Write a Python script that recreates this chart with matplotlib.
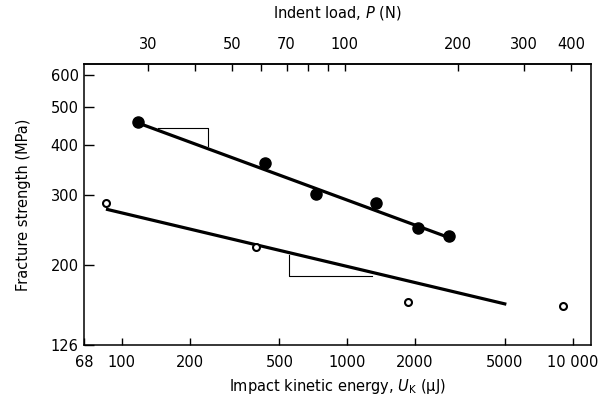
import matplotlib
matplotlib.use("Agg")
import matplotlib.pyplot as plt
import numpy as np
from matplotlib.ticker import FixedLocator, FixedFormatter, NullLocator

# filled points (upper series)
u_filled = [118, 431, 725, 1337, 2069, 2840]
s_filled = [457, 362, 301, 286, 248, 236]
# open points (lower series)
u_open = [85, 393, 1866, 9058]
s_open = [287, 222.6, 161.8, 158]
# fitted lines
u_fit_hi = [123.5, 2820]
s_fit_hi = [451, 234.6]
u_fit_lo = [85, 5080]
s_fit_lo = [276.5, 159.4]
# slope triangles
u_tri_hi = [144, 240, 240]
s_tri_hi = [442, 442, 397.7]
u_tri_lo = [552, 552, 1294]
s_tri_lo = [212, 187.8, 187.8]

x_ticks = [68, 100, 200, 500, 1000, 2000, 5000, 10000]
x_labels = ["68", "100", "200", "500", "1000", "2000", "5000", "10 000"]
y_ticks = [126, 200, 300, 400, 500, 600]
p_ticks = [30, 40, 50, 60, 70, 80, 90, 100, 200, 300, 400]
p_labels = ["30", "", "50", "", "70", "", "", "100", "200", "300", "400"]

# indent load P relates to kinetic energy as U ~ P^(5/3)
k = 1.609


def u_to_p(u):
    return k * np.power(np.clip(u, 1e-9, None), 0.6)


def p_to_u(p):
    return np.power(np.clip(p, 1e-9, None) / k, 1 / 0.6)


plt.rcParams['font.family'] = ['DejaVu Sans']
plt.rcParams['font.size'] = 10.5

fig = plt.figure(figsize=(6.14, 4.01), dpi=100)
ax = fig.add_axes([0.137, 0.140, 0.826, 0.700])

ax.plot(u_fit_hi, s_fit_hi, color='black', lw=2.3, solid_capstyle='butt')
ax.plot(u_fit_lo, s_fit_lo, color='black', lw=2.3, solid_capstyle='butt')
ax.plot(u_tri_hi, s_tri_hi, color='black', lw=0.8)
ax.plot(u_tri_lo, s_tri_lo, color='black', lw=0.8)
ax.plot(u_filled, s_filled, 'o', color='black', ms=8, zorder=3)
ax.plot(u_open, s_open, 'o', mfc='white', mec='black', mew=1.5, ms=5, zorder=3)

ax.set_xscale('log')
ax.set_yscale('log')
ax.set_xlim(68, 12100)
ax.set_ylim(126, 640)

ax.xaxis.set_major_locator(FixedLocator(x_ticks))
ax.xaxis.set_major_formatter(FixedFormatter(x_labels))
ax.xaxis.set_minor_locator(NullLocator())
ax.yaxis.set_major_locator(FixedLocator(y_ticks))
ax.yaxis.set_major_formatter(FixedFormatter([str(v) for v in y_ticks]))
ax.yaxis.set_minor_locator(NullLocator())

ax.tick_params(axis='x', direction='in', length=5, width=1, pad=7)
ax.tick_params(axis='y', direction='in', length=7, width=1, pad=4)
for sp in ax.spines.values():
    sp.set_linewidth(1.1)

ax.set_xlabel(r"Impact kinetic energy, $U_{\mathrm{K}}$ ($\mathrm{\mu}$J)", labelpad=5)
ax.set_ylabel("Fracture strength (MPa)", labelpad=14)

top = ax.secondary_xaxis('top', functions=(u_to_p, p_to_u))
top.xaxis.set_major_locator(FixedLocator(p_ticks))
top.xaxis.set_major_formatter(FixedFormatter(p_labels))
top.xaxis.set_minor_locator(NullLocator())
top.tick_params(axis='x', direction='in', length=5, width=1, pad=9)
top.spines['top'].set_linewidth(1.1)
top.set_xlabel(r"Indent load, $P$ (N)", labelpad=14)

fig.savefig("out.png", dpi=100)
